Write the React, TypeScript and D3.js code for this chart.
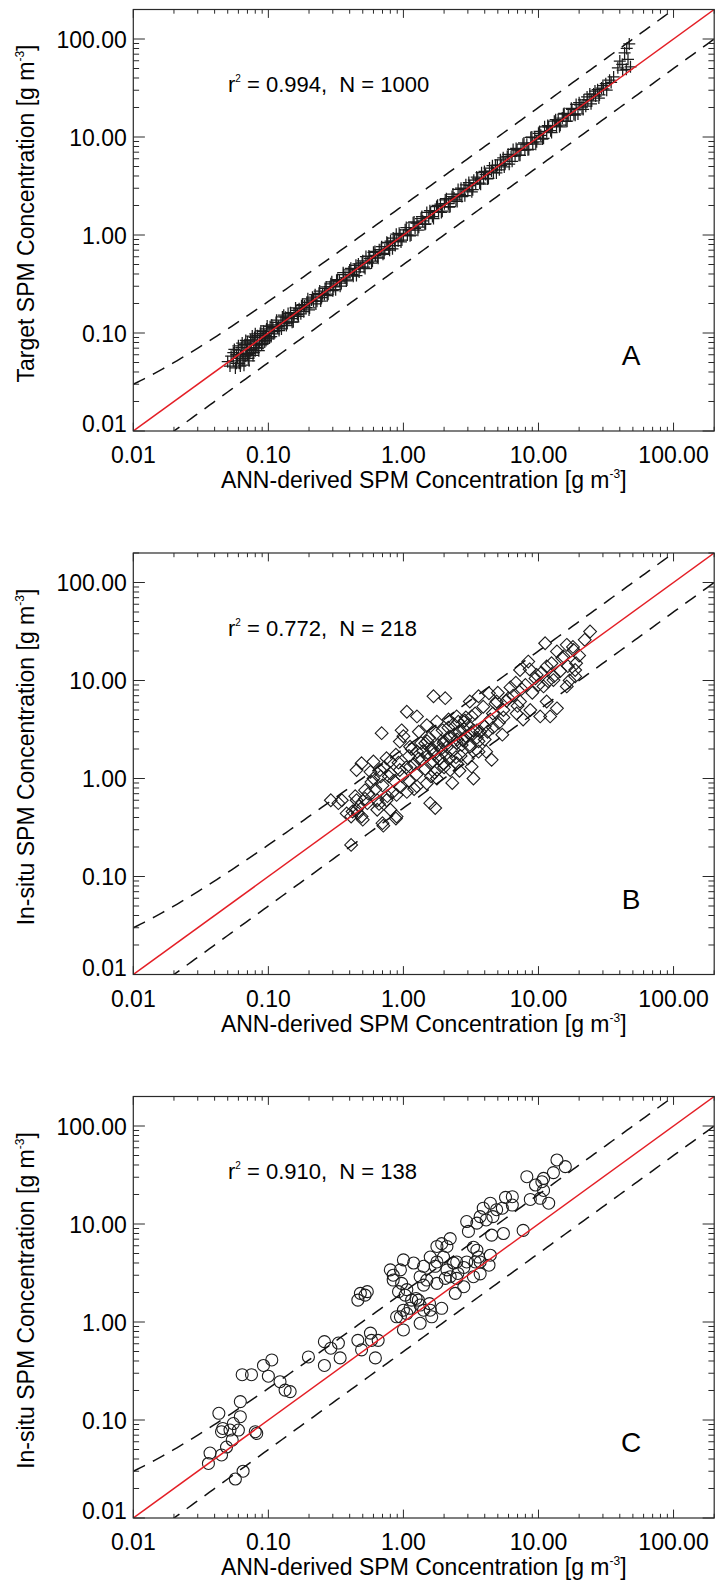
import React from 'react';
import * as d3 from 'd3';

// ---------- data ----------
const DOMAIN: [number, number] = [0.01, 200];
const majorTicks = [0.01, 0.1, 1, 10, 100];
const xTickLabels = ['0.01', '0.10', '1.00', '10.00', '100.00'];
const yTickLabels = ['0.01', '0.10', '1.00', '10.00', '100.00'];
const panelLetters = ['A', 'B', 'C'];
const yTitles = ['Target SPM Concentration', 'In-situ SPM Concentration', 'In-situ SPM Concentration'];
const xTitle = 'ANN-derived SPM Concentration';
const r2Values = ['0.994', '0.772', '0.910'];
const nValues = ['1000', '218', '138'];
const upperFactor = 2;
const upperOffset = 0.01;
const lowerFactor = 0.5;

// Panel A: ANN-derived vs target (crosses)
const pointsA: [number, number][] = [
  [0.050,0.051],[0.052,0.046],[0.053,0.058],[0.055,0.063],[0.055,0.052],[0.057,0.044],[0.058,0.060],[0.059,0.055],
  [0.060,0.067],[0.061,0.049],[0.062,0.058],[0.063,0.071],[0.064,0.053],[0.065,0.062],[0.066,0.047],[0.067,0.076],
  [0.068,0.058],[0.069,0.066],[0.070,0.081],[0.071,0.055],[0.072,0.071],[0.073,0.062],[0.074,0.085],[0.075,0.068],
  [0.077,0.059],[0.078,0.079],[0.079,0.090],[0.080,0.066],[0.082,0.075],[0.083,0.094],[0.084,0.070],[0.086,0.083],
  [0.087,0.099],[0.089,0.076],[0.090,0.089],[0.092,0.104],[0.094,0.081],[0.095,0.094],[0.097,0.110],[0.099,0.087],
  [0.101,0.099],[0.103,0.116],[0.105,0.092],
  [0.108,0.114],[0.111,0.103],[0.114,0.128],[0.117,0.113],[0.120,0.106],[0.124,0.128],[0.127,0.146],[0.131,0.124],
  [0.134,0.145],[0.138,0.126],[0.142,0.143],[0.146,0.161],[0.150,0.129],[0.155,0.153],[0.159,0.180],[0.164,0.154],
  [0.169,0.177],[0.174,0.157],[0.179,0.195],[0.185,0.189],[0.190,0.182],[0.196,0.223],[0.202,0.180],[0.209,0.217],
  [0.216,0.212],[0.222,0.246],[0.229,0.211],[0.237,0.254],[0.244,0.212],[0.252,0.252],[0.260,0.247],[0.268,0.295],
  [0.277,0.249],[0.286,0.297],[0.295,0.333],[0.305,0.296],[0.315,0.277],[0.325,0.351],[0.336,0.339],[0.347,0.323],
  [0.358,0.412],[0.370,0.366],[0.382,0.348],[0.395,0.419],[0.408,0.457],[0.421,0.396],[0.435,0.448],[0.449,0.386],
  [0.464,0.506],[0.479,0.469],[0.495,0.520],[0.511,0.470],[0.528,0.602],[0.545,0.523],[0.563,0.574],[0.581,0.517],
  [0.600,0.666],[0.620,0.620],[0.641,0.596],[0.662,0.708],[0.683,0.710],[0.706,0.635],[0.729,0.707],[0.753,0.843],
  [0.778,0.731],[0.803,0.867],[0.830,0.722],[0.857,0.866],[0.885,1.018],[0.914,0.868],[0.944,1.001],[0.975,0.887],
  [1.00,0.99],[1.03,1.13],[1.07,1.00],[1.10,1.13],[1.14,1.00],[1.18,1.33],[1.22,1.17],[1.26,1.32],[1.30,1.20],
  [1.35,1.47],[1.39,1.39],[1.44,1.28],[1.49,1.70],[1.54,1.51],[1.59,1.70],[1.64,1.54],[1.70,1.73],[1.76,1.95],
  [1.82,1.73],[1.88,2.07],[1.94,1.75],[2.01,2.09],[2.08,2.35],[2.15,2.09],[2.22,1.95],[2.29,2.47],[2.37,2.39],
  [2.45,2.28],[2.54,2.92],[2.62,2.59],[2.71,2.47],[2.81,2.98],[2.90,3.25],[3.00,2.82],[3.10,3.19],[3.21,2.76],
  [3.32,3.62],[3.43,3.36],[3.55,3.73],[3.67,3.38],[3.79,4.32],[3.92,3.76],[4.06,4.14],[4.19,3.73],[4.34,4.82],
  [4.49,4.49],[4.64,4.32],[4.80,5.14],[4.96,5.16],[5.13,4.62],[5.30,5.14],[5.48,6.14],[5.67,5.33],[5.87,6.34],
  [6.07,5.28],[6.27,6.33],[6.49,7.46],[6.71,6.37],[6.94,7.36],[7.17,6.52],[7.42,7.35],[7.67,8.44],[7.93,7.37],
  [8.20,8.45],[8.48,7.46],[8.77,9.91],[9.07,8.71],[9.38,9.85],[9.70,8.92],[10.0,10.9],[10.4,10.4],[10.7,9.52],
  [11.1,12.7],[11.5,11.3],[11.9,12.7],[12.3,11.6],[12.7,13.0],[13.1,14.5],[13.6,12.9],[14.0,14.8],[14.5,13.2],
  [15.0,15.6],[15.5,17.4],[16.0,14.4],[16.6,16.8],[17.2,16.7],[17.7,19.1],[18.3,17.0],[19.0,21.5],[19.6,17.2],
  [20.3,21.3],[21.0,20.2],[21.7,23.9],[22.4,20.6],[23.2,23.9],[24.0,27.4],[24.8,23.3],[25.6,27.4],[26.5,26.2],
  [27.4,30.4],[28.3,26.9],[29.3,31.6],[30.3,30.9],
  [31.5,35],[33.6,38],[36,41],[38.7,50.8],[40,59.6],[41.7,55],[42,48],[43.4,72],[44.7,49],[45,80],[46,62],[47,89],[48,52],
  [0.056,0.068],[0.058,0.049],[0.060,0.074],[0.062,0.046],[0.064,0.079],[0.066,0.055],[0.068,0.084],[0.070,0.060],
  [0.072,0.052],[0.074,0.077],[0.076,0.093],[0.078,0.063],[0.080,0.098],[0.081,0.071],[0.085,0.066],[0.088,0.105],
  [0.091,0.078],[0.093,0.095],[0.096,0.084],[0.098,0.118],[0.102,0.089],[0.106,0.121],[0.110,0.098],[0.115,0.135],
  [0.119,0.117],[0.125,0.110],[0.130,0.152],[0.136,0.119],[0.140,0.158],[0.148,0.140],[0.153,0.130],[0.160,0.170],
  [0.167,0.148],[0.176,0.190],[0.183,0.165],[0.193,0.205],[0.200,0.172],[0.212,0.232],[0.225,0.198],[0.240,0.268],
  [0.248,0.230],[0.263,0.285],[0.273,0.240],[0.290,0.318],[0.300,0.270],[0.320,0.345],[0.340,0.300],[0.360,0.395],
  [0.378,0.340],[0.400,0.440],[0.425,0.380],[0.445,0.490],[0.470,0.420],[0.500,0.545],[0.520,0.455],[0.555,0.610],
  [0.590,0.540],[0.615,0.680],[0.650,0.580],[0.690,0.760],[0.720,0.650],[0.765,0.830],[0.790,0.700],[0.840,0.930],
  [0.870,0.780],[0.930,1.04],[0.960,0.850],
  [1.05,1.19],[1.12,0.98],[1.20,1.36],[1.28,1.12],[1.37,1.54],[1.46,1.30],[1.57,1.77],[1.67,1.47],[1.79,2.01],
  [1.91,1.70],[2.04,2.28],[2.18,1.93],[2.33,2.62],[2.50,2.20],[2.67,3.00],[2.85,2.52],[3.05,3.43],[3.26,2.90],
  [3.49,3.90],[3.73,3.30],[3.98,4.45],[4.26,3.78],[4.56,5.10],[4.88,4.30],[5.22,5.85],[5.58,4.95],[5.97,6.65],
  [6.38,5.65],[6.83,7.65],[7.30,6.50],[7.81,8.70],[8.35,7.40],[8.93,10.0],[9.55,8.45],[10.2,11.4],[10.9,9.70],
  [11.7,13.1],[12.5,11.1],[13.4,15.0],[14.3,12.7],[15.3,17.1],[16.3,14.5],[17.5,19.6],[18.7,16.7],[20.0,22.4],
  [21.4,19.1],[22.9,25.6],[24.5,21.8],[26.2,29.4],[28.0,25.0],[30.0,33.5],[32.0,30.0],[34.5,36.0]
];

// Panel B: ANN-derived vs in-situ (diamonds)
const pointsB: [number, number][] = [
  [24.1,31.6],[11.2,24.0],[16.2,23.1],[13.7,19.8],[18.2,20.5],[15.3,17.6],[8.4,15.6],[7.3,12.8],[11.5,13.9],
  [9.7,11.4],[18.7,12.8],[18.7,11.0],[16.2,8.7],[12.9,10.1],[10.9,8.7],[11.5,6.1],[13.7,5.2],[12.2,4.3],
  [10.3,4.3],[8.7,5.0],[7.3,6.1],[6.9,4.6],[7.7,4.0],[6.0,6.6],[5.5,5.0],[4.9,6.1],[4.3,7.4],[3.6,6.9],
  [3.1,6.1],[2.04,6.6],[1.67,6.9],[1.06,4.8],[1.26,4.3],[1.49,3.5],[1.77,3.8],[2.16,4.0],[2.48,4.3],[2.79,3.8],
  [3.2,4.3],[3.5,3.1],[4.0,3.4],[4.4,4.0],[5.1,3.7],[5.4,2.8],[4.6,4.6],[0.69,2.9],[0.94,2.38],[1.12,2.11],
  [1.26,1.88],[1.45,2.29],[1.67,1.95],[1.98,2.29],[2.22,2.67],[2.48,2.29],[2.79,2.47],[3.1,2.11],[3.6,1.88],
  [4.1,1.88],[4.5,1.55],[3.2,1.32],[3.3,1.0],[0.75,1.61],[0.60,1.49],[0.49,1.43],[0.45,1.22],[0.57,1.17],
  [0.67,1.22],[0.80,1.13],[0.94,1.22],[1.12,1.32],[1.37,1.55],[1.58,1.43],[1.77,1.22],[1.98,1.43],[2.22,1.22],
  [2.48,1.43],[1.77,1.0],[1.49,0.89],[1.26,0.83],[1.06,0.73],[0.89,0.68],[0.75,0.60],[0.64,0.60],[0.52,0.76],
  [0.45,0.60],[0.54,0.56],[0.64,0.48],[0.80,0.48],[0.89,0.41],[0.71,0.33],[0.49,0.41],[0.45,0.48],[0.41,0.41],
  [0.29,0.60],[0.33,0.56],[1.58,0.56],[1.72,0.50],[0.41,0.21],[0.46,0.44],[0.88,0.39],[0.70,0.35],
  [1.3,1.6],[1.4,1.9],[1.5,1.7],[1.6,2.0],[1.7,1.8],[1.8,2.2],[1.9,2.0],[2.0,2.4],[2.1,2.1],[2.2,2.6],[2.3,1.9],
  [2.4,2.8],[2.5,2.5],[2.6,3.0],[2.7,2.2],[2.8,3.2],[2.9,2.7],[3.0,3.5],[3.2,2.9],[1.2,1.4],[1.1,1.7],[1.35,2.3],
  [1.55,2.6],[1.65,1.5],[1.75,2.9],[1.85,1.6],[1.95,3.1],[2.05,1.75],[2.15,3.3],[2.35,3.6],[2.45,1.65],[2.55,3.8],
  [2.65,1.7],[2.75,2.45],[2.85,3.9],[3.1,2.2],[3.3,3.1],[3.5,2.6],[3.7,3.0],[1.45,1.25],[1.25,1.1],[1.05,1.3],
  [0.98,1.05],[0.92,1.45],[1.15,2.0],[1.7,1.15],[2.0,1.3],[2.2,1.6],[1.6,1.05],[3.4,4.6],[2.9,4.2],[4.2,3.0],
  [3.9,5.4],[4.8,5.8],[5.5,4.2],[6.5,7.0],[7.0,5.5],[6.2,8.5],[8.0,9.0],[9.0,7.5],[10.5,12.0],[12.5,15.0],
  [14.5,12.5],[16.5,14.0],[11.8,9.8],[17.0,10.0],[0.7,0.85],[0.62,0.78],[0.55,0.7],[0.85,0.95],[0.78,1.05],
  [0.58,0.92],[0.52,0.62],[0.66,0.55],[0.76,0.66],[0.83,0.72],[0.95,0.82],[1.1,0.95],[1.2,0.78],[0.47,0.52],
  [0.44,0.66],[0.6,1.0],[0.72,1.3],[0.68,1.05],[0.5,0.38],[0.42,0.46],[0.38,0.44],[0.35,0.6],[1.0,2.7],
  [0.97,3.1],[1.3,3.0],[1.5,2.4],[0.88,1.75],[0.8,1.5],[2.3,0.9],[2.6,1.2],[3.0,1.6],[4.0,2.5],[3.6,2.4],
  [4.6,3.3],[5.8,6.2],[7.5,8.2],[9.5,10.5],[13,11],[15,17],[19,15],[20,18],[5.0,7.5],[6.8,9.5],[8.6,13],
  [10,9],[22,26],[18,22]
];

// Panel C: ANN-derived vs in-situ (circles)
const pointsC: [number, number][] = [
  [13.7,45.0],[15.8,38.5],[12.9,33.4],[10.9,29.2],[8.2,30.4],[9.5,25.0],[10.6,27.0],[8.7,17.8],[11.9,16.3],
  [10.3,18.3],[5.7,18.7],[6.4,19.0],[5.4,14.5],[6.4,15.6],[4.4,16.3],[3.9,14.5],[3.7,11.9],[4.1,11.0],
  [3.5,10.2],[2.94,10.6],[3.03,8.4],[4.6,11.9],[4.5,7.7],[5.5,8.0],[7.7,8.6],[2.22,7.1],[1.92,6.3],[1.77,5.9],
  [2.1,5.9],[1.98,4.6],[1.77,4.1],[1.58,4.6],[1.72,3.7],[2.1,3.4],[2.35,4.0],[2.48,4.1],[2.94,4.1],[3.4,4.1],
  [3.6,4.6],[3.5,5.4],[4.4,4.8],[4.3,3.8],[3.7,3.1],[3.3,2.9],[2.8,2.29],[2.42,1.96],[2.22,2.9],[2.04,2.79],
  [2.48,2.79],[1.77,2.48],[1.49,2.68],[1.41,2.38],[1.33,2.9],[1.19,4.0],[1.0,4.3],[0.95,3.4],[0.80,3.4],
  [0.84,2.68],[0.97,2.48],[0.92,2.04],[1.03,1.88],[1.15,1.67],[1.29,1.67],[1.12,1.38],[1.0,1.32],[0.89,1.13],
  [1.06,1.22],[1.33,1.49],[1.58,1.32],[1.92,1.38],[1.62,1.13],[1.33,0.97],[1.0,0.83],[0.95,1.13],[0.48,1.96],
  [0.52,1.88],[0.46,1.67],[0.54,2.04],[0.26,0.63],[0.29,0.54],[0.33,0.61],[0.34,0.43],[0.26,0.36],[0.198,0.44],
  [0.46,0.65],[0.57,0.77],[0.58,0.65],[0.65,0.65],[0.49,0.52],[0.62,0.43],[0.106,0.41],[0.092,0.36],[0.100,0.28],
  [0.064,0.29],[0.075,0.29],[0.122,0.246],[0.133,0.202],[0.145,0.195],[0.062,0.154],[0.055,0.092],[0.052,0.079],
  [0.045,0.076],[0.043,0.117],[0.054,0.0625],[0.049,0.053],[0.045,0.044],[0.037,0.046],[0.036,0.036],
  [0.080,0.076],[0.082,0.073],[0.065,0.030],[0.057,0.025],[0.062,0.108],[0.046,0.082],[0.060,0.079],
  [1.41,3.7],[0.84,3.0],[1.06,2.14],[1.24,1.74],[1.56,1.54],[1.41,1.32],[2.8,3.6],[2.53,3.13],[3.3,5.8],
  [3.7,4.1],[4.9,14.0],[10.9,22.0]
];

// ---------- layout ----------
const W = 716;
const H = 1582;
const PLOT_LEFT = 133.3;
const PLOT_RIGHT = 714.2;
const PANEL_TOP = 9.5;
const PANEL_H = 421.5;
const PANEL_STEP = 543.5;
const FONT = "'Liberation Sans', Arial, Helvetica, sans-serif";
const AXIS_COLOR = '#2a2a2a';
const RED = '#e41f26';

type Marker = 'plus' | 'diamond' | 'circle';

function Panel({ index, points, marker }: { index: number; points: [number, number][]; marker: Marker }) {
  const top = PANEL_TOP + index * PANEL_STEP;
  const bottom = top + PANEL_H;
  const x = d3.scaleLog().domain(DOMAIN).range([PLOT_LEFT, PLOT_RIGHT]);
  const y = d3.scaleLog().domain(DOMAIN).range([bottom, top]);
  const ticks = x.ticks();
  const isMajor = (t: number) => majorTicks.some((m) => Math.abs(m - t) / m < 1e-6);
  const line = d3.line<[number, number]>().x((d) => x(d[0])).y((d) => y(d[1]));
  const xs = d3.range(0, 161).map((i) => DOMAIN[0] * Math.pow(DOMAIN[1] / DOMAIN[0], i / 160));
  const upper = xs.map((v) => [v, upperFactor * v + upperOffset] as [number, number]);
  const lower = xs.map((v) => [v, v * lowerFactor] as [number, number]);
  const identity = DOMAIN.map((v) => [v, v] as [number, number]);
  const yMajLen = 11.6, yMinLen = 5.8, xMajLen = 8.4, xMinLen = 4.2;
  const clipId = `clip-panel-${index}`;
  const midX = (PLOT_LEFT + PLOT_RIGHT) / 2;

  const renderMarker = (d: [number, number], i: number) => {
    const cx = x(d[0]);
    const cy = y(d[1]);
    if (marker === 'plus') {
      const s = 6;
      return <path key={i} d={`M${cx - s},${cy}H${cx + s}M${cx},${cy - s}V${cy + s}`} stroke="#1c1c1c" strokeWidth={1.25} fill="none" />;
    }
    if (marker === 'diamond') {
      const s = 6.4;
      return <path key={i} d={`M${cx},${cy - s}L${cx + s},${cy}L${cx},${cy + s}L${cx - s},${cy}Z`} stroke="#1c1c1c" strokeWidth={1.1} fill="none" />;
    }
    return <circle key={i} cx={cx} cy={cy} r={6} stroke="#1c1c1c" strokeWidth={1.1} fill="none" />;
  };

  return (
    <g>
      <defs>
        <clipPath id={clipId}>
          <rect x={PLOT_LEFT} y={top} width={PLOT_RIGHT - PLOT_LEFT} height={PANEL_H} />
        </clipPath>
      </defs>
      <g clipPath={`url(#${clipId})`}>
        {points.map(renderMarker)}
        <path d={line(upper) || ''} stroke="#111" strokeWidth={1.5} fill="none" strokeDasharray="13 9" />
        <path d={line(lower) || ''} stroke="#111" strokeWidth={1.5} fill="none" strokeDasharray="13 9" />
        <path d={line(identity) || ''} stroke={RED} strokeWidth={1.5} fill="none" />
      </g>
      <rect x={PLOT_LEFT} y={top} width={PLOT_RIGHT - PLOT_LEFT} height={PANEL_H} fill="none" stroke={AXIS_COLOR} strokeWidth={1.2} />
      {ticks.map((t, i) => {
        const px = x(t);
        const len = isMajor(t) ? xMajLen : xMinLen;
        return (
          <g key={`xt${i}`} stroke={AXIS_COLOR} strokeWidth={1}>
            <line x1={px} x2={px} y1={bottom} y2={bottom - len} />
            <line x1={px} x2={px} y1={top} y2={top + len} />
          </g>
        );
      })}
      {ticks.map((t, i) => {
        const py = y(t);
        const len = isMajor(t) ? yMajLen : yMinLen;
        return (
          <g key={`yt${i}`} stroke={AXIS_COLOR} strokeWidth={1}>
            <line x1={PLOT_LEFT} x2={PLOT_LEFT + len} y1={py} y2={py} />
            <line x1={PLOT_RIGHT} x2={PLOT_RIGHT - len} y1={py} y2={py} />
          </g>
        );
      })}
      {majorTicks.map((t, i) => (
        <text key={`xl${i}`} x={x(t)} y={bottom + 32} textAnchor="middle" fontFamily={FONT} fontSize={23} fill="#000">
          {xTickLabels[i]}
        </text>
      ))}
      {majorTicks.map((t, i) => (
        <text key={`yl${i}`} x={PLOT_LEFT - 6.5} y={Math.min(y(t) + 8.5, bottom + 1)} textAnchor="end" fontFamily={FONT} fontSize={23} fill="#000">
          {yTickLabels[i]}
        </text>
      ))}
      <text x={midX} y={bottom + 57} textAnchor="middle" fontFamily={FONT} fontSize={23} fill="#000">
        {xTitle + ' [g m'}
        <tspan fontSize={12} dy={-10}>-3</tspan>
        <tspan dy={10}>]</tspan>
      </text>
      <text transform={`translate(33.5, ${top + 204}) rotate(-90)`} textAnchor="middle" fontFamily={FONT} fontSize={23} fill="#000">
        {yTitles[index] + ' [g m'}
        <tspan fontSize={12} dy={-10}>-3</tspan>
        <tspan dy={10}>]</tspan>
      </text>
      <text x={228} y={top + 82.5} fontFamily={FONT} fontSize={22} fill="#000" style={{ whiteSpace: 'pre' }}>
        r
        <tspan fontSize={10} dy={-10}>2</tspan>
        <tspan dy={10}>{` = ${r2Values[index]},  N = ${nValues[index]}`}</tspan>
      </text>
      <text x={631} y={top + 355.5} textAnchor="middle" fontFamily={FONT} fontSize={28} fill="#000">
        {panelLetters[index]}
      </text>
    </g>
  );
}

export default function App() {
  return (
    <svg
      width={W}
      height={H}
      viewBox={`0 0 ${W} ${H}`}
      style={{ position: 'absolute', left: 0, top: 0, background: '#fff' }}
    >
      <rect x={0} y={0} width={W} height={H} fill="#fff" />
      <Panel index={0} points={pointsA} marker="plus" />
      <Panel index={1} points={pointsB} marker="diamond" />
      <Panel index={2} points={pointsC} marker="circle" />
    </svg>
  );
}
